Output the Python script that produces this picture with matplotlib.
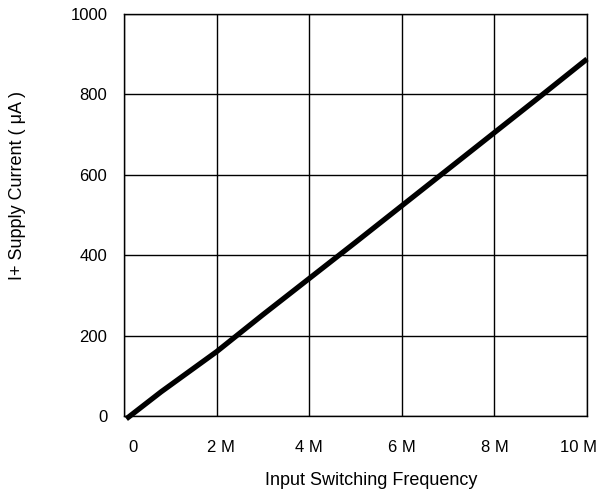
import matplotlib
matplotlib.use('Agg')
import matplotlib.pyplot as plt
from matplotlib.transforms import ScaledTranslation

plt.rcParams['font.family'] = ['Liberation Sans', 'DejaVu Sans']

freq_mhz = [0.05, 0.8, 2, 3, 4, 5, 6, 7, 8, 9, 10]
current_ua = [-7, 60, 160, 252, 342, 432, 523, 614, 705, 796, 888]

xticks = [0, 2, 4, 6, 8, 10]
xticklabels = ['0', '2 M', '4 M', '6 M', '8 M', '10 M']
yticks = [0, 200, 400, 600, 800, 1000]

fig = plt.figure(figsize=(6.05, 4.94), dpi=100)
ax = fig.add_axes([124 / 605, 1 - 416 / 494, 463 / 605, 402 / 494])

ax.plot(freq_mhz, current_ua, color='black', linewidth=3.8,
        solid_capstyle='butt', clip_on=False, zorder=3)

ax.set_xlim(0, 10)
ax.set_ylim(0, 1000)
ax.set_xticks(xticks)
ax.set_xticklabels(xticklabels)
ax.set_yticks(yticks)
ax.grid(True, color='black', linewidth=1)
ax.tick_params(length=0, labelsize=12)
ax.tick_params(axis='x', pad=17)
ax.tick_params(axis='y', pad=12)
for s in ax.spines.values():
    s.set_linewidth(1)

# end labels sit a bit inward in the original
shifts = {0: 9, 1: 4, 5: -9}
for i, lab in enumerate(ax.get_xticklabels()):
    if i in shifts:
        lab.set_transform(lab.get_transform() +
                          ScaledTranslation(shifts[i] / 100, 0, fig.dpi_scale_trans))

fig.text(371 / 605, 1 - 480 / 494, 'Input Switching Frequency', fontsize=13,
         ha='center', va='center')
fig.text(18 / 605, 1 - 186 / 494, 'I+ Supply Current ( \u03bcA )', fontsize=13,
         rotation=90, ha='center', va='center')

fig.savefig('out.png', dpi=100)
